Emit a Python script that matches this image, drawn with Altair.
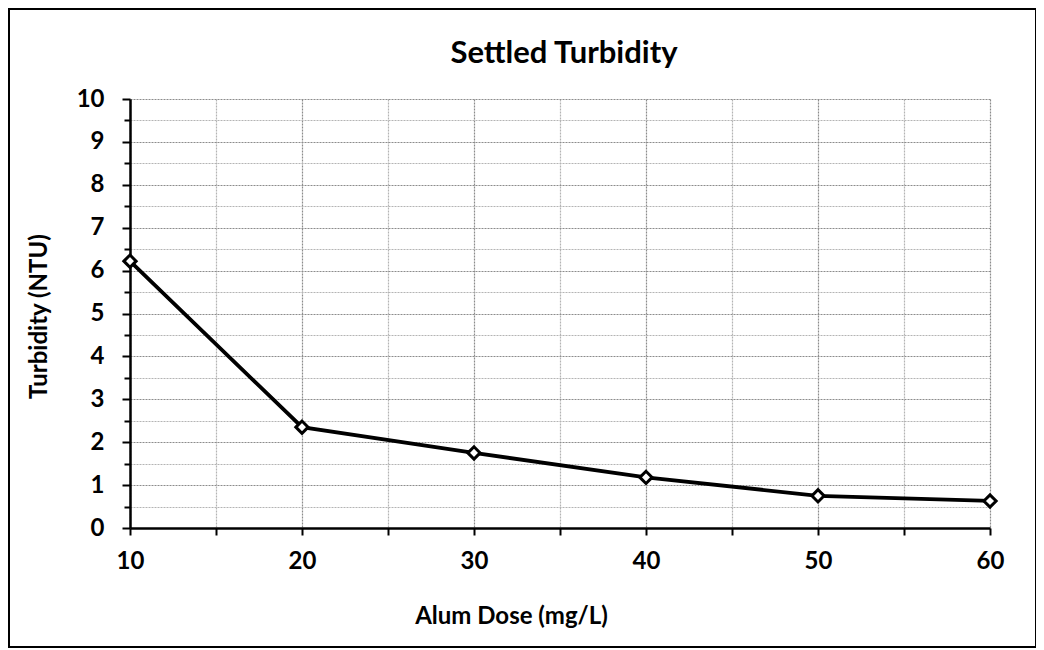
import altair as alt
import pandas as pd

dose = [10, 20, 30, 40, 50, 60]
turbidity = [6.22, 2.35, 1.75, 1.18, 0.75, 0.63]

x_ticks = [10, 15, 20, 25, 30, 35, 40, 45, 50, 55, 60]
y_ticks = [0, 0.5, 1, 1.5, 2, 2.5, 3, 3.5, 4, 4.5, 5, 5.5, 6, 6.5, 7, 7.5, 8, 8.5, 9, 9.5, 10]

df = pd.DataFrame({"dose": dose, "turbidity": turbidity})
one = pd.DataFrame({"a": [0]})

FONT = "Lato"
MAJOR = "#8c8c8c"
MINOR = "#b4b4b4"

x_enc = alt.X(
    "dose:Q",
    scale=alt.Scale(domain=[10, 60], nice=False, zero=False),
    axis=alt.Axis(
        values=x_ticks,
        tickCount=30,
        labelExpr="datum.value % 10 == 0 ? format(datum.value, 'd') : ''",
        title="Alum Dose (mg/L)",
        titleX=381,
        titleY=95,
        titleBaseline="alphabetic",
        titleFont=FONT,
        titleFontSize=24,
        titleFontWeight="bold",
        titleColor="black",
        labelFont=FONT,
        labelFontSize=24,
        labelFontWeight="bold",
        labelColor="black",
        labelPadding=14,
        labelFlush=False,
        labelOverlap=False,
        domainColor="black",
        domainWidth=2.5,
        tickColor="black",
        tickWidth=2,
        tickSize=7,
        grid=True,
        gridColor=alt.condition("datum.value % 10 == 0", alt.value(MAJOR), alt.value(MINOR)),
        gridDash=[2, 1],
        gridWidth=1.2,
    ),
)

y_enc = alt.Y(
    "turbidity:Q",
    scale=alt.Scale(domain=[0, 10], nice=False),
    axis=alt.Axis(
        values=y_ticks,
        tickCount=30,
        labelExpr="datum.value % 1 == 0 ? format(datum.value, 'd') : ''",
        title="Turbidity (NTU)",
        titleX=-84,
        titleY=217,
        titleAngle=-90,
        titleBaseline="alphabetic",
        titleAlign="center",
        titleFont=FONT,
        titleFontSize=24,
        titleFontWeight="bold",
        titleColor="black",
        labelFont=FONT,
        labelFontSize=24,
        labelFontWeight="bold",
        labelColor="black",
        labelPadding=18,
        labelFlush=False,
        labelOverlap=False,
        domainColor="black",
        domainWidth=2.5,
        tickColor="black",
        tickWidth=2,
        tickSize=alt.condition("datum.value % 1 == 0", alt.value(8), alt.value(6)),
        grid=True,
        gridColor=alt.condition("datum.value % 1 == 0", alt.value(MAJOR), alt.value(MINOR)),
        gridDash=[2, 1],
        gridWidth=1.2,
    ),
)

border = alt.Chart(one).mark_rect(filled=False, stroke="black", strokeWidth=2).encode(
    x=alt.value(-121), x2=alt.value(906), y=alt.value(-90), y2=alt.value(548)
)

title = alt.Chart(one).mark_text(
    text="Settled Turbidity", font=FONT, fontSize=31, fontWeight="bold",
    color="black", align="center", baseline="alphabetic"
).encode(x=alt.value(434), y=alt.value(-36))

line = alt.Chart(df).mark_line(color="black", strokeWidth=3.8).encode(x=x_enc, y=y_enc)
points = alt.Chart(df).mark_point(
    shape="diamond", filled=True, fill="white", stroke="black", strokeWidth=3, size=150, opacity=1
).encode(x="dose:Q", y="turbidity:Q")

chart = alt.layer(border, title, line, points).properties(
    width=860, height=429,
    autosize=alt.AutoSizeParams(type="none"),
    padding={"left": 122, "top": 91, "right": 46, "bottom": 122},
    background="white",
).configure_view(stroke=None)

chart.save("out.html", embed_options={"renderer": "svg", "actions": False})
